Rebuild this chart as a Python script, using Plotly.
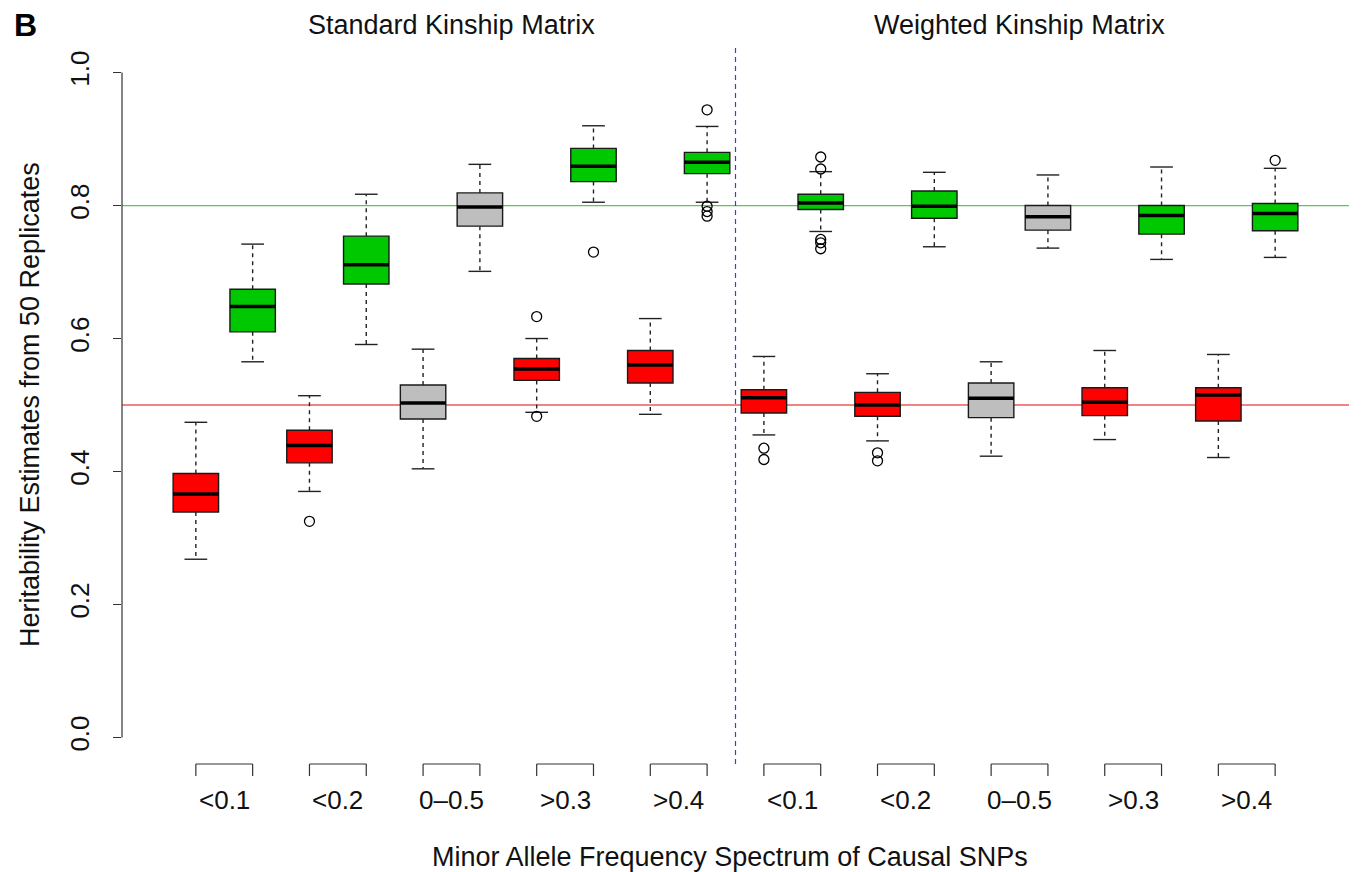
import plotly.graph_objects as go

# ---------------- data ----------------
panels = ["Standard Kinship Matrix", "Weighted Kinship Matrix"]
maf_labels = ["<0.1", "<0.2", "0\u20130.5", ">0.3", ">0.4",
              "<0.1", "<0.2", "0\u20130.5", ">0.3", ">0.4"]

# true heritability 0.5 (red series)
low_whi = [0.474, 0.514, 0.584, 0.600, 0.630, 0.573, 0.547, 0.565, 0.582, 0.576]
low_q3  = [0.397, 0.462, 0.530, 0.570, 0.582, 0.523, 0.519, 0.533, 0.526, 0.526]
low_med = [0.366, 0.439, 0.503, 0.554, 0.560, 0.511, 0.500, 0.510, 0.504, 0.515]
low_q1  = [0.339, 0.413, 0.479, 0.537, 0.533, 0.488, 0.483, 0.481, 0.484, 0.476]
low_wlo = [0.268, 0.370, 0.404, 0.489, 0.486, 0.455, 0.446, 0.423, 0.448, 0.421]
low_out = [[], [0.325], [], [0.633, 0.483], [], [0.435, 0.418], [0.428, 0.416], [], [], []]

# true heritability 0.8 (green series)
high_whi = [0.742, 0.817, 0.862, 0.920, 0.919, 0.851, 0.850, 0.846, 0.858, 0.856]
high_q3  = [0.674, 0.754, 0.819, 0.886, 0.880, 0.817, 0.822, 0.800, 0.800, 0.803]
high_med = [0.648, 0.711, 0.798, 0.859, 0.865, 0.804, 0.799, 0.783, 0.785, 0.788]
high_q1  = [0.610, 0.682, 0.769, 0.836, 0.848, 0.794, 0.781, 0.763, 0.757, 0.762]
high_wlo = [0.565, 0.591, 0.701, 0.805, 0.805, 0.761, 0.738, 0.736, 0.719, 0.722]
high_out = [[], [], [], [0.730], [0.944, 0.799, 0.791, 0.784],
            [0.873, 0.855, 0.749, 0.744, 0.735], [], [], [], [0.868]]

true_h2 = [0.5, 0.8]

# ---------------- styling ----------------
RED = "#FF0000"
GREEN = "#00C800"
GREY = "#BEBEBE"
FONT = "Liberation Sans, Arial, sans-serif"
BOXW = 0.8
CAPW = 0.4

fig = go.Figure()


def add_box(pos, whi, q3, med, q1, wlo, outs, fill):
    fig.add_trace(go.Box(
        x=[pos], q1=[q1], median=[med], q3=[q3],
        lowerfence=[q1], upperfence=[q3],
        width=BOXW, whiskerwidth=0,
        fillcolor=fill, line=dict(color="#1a1a1a", width=1.4),
        boxpoints=False, showlegend=False, hoverinfo="skip"))
    # dashed whiskers
    fig.add_trace(go.Scatter(
        x=[pos, pos, None, pos, pos], y=[q3, whi, None, q1, wlo],
        mode="lines", line=dict(color="#222222", width=1.4, dash="4px,4px"),
        showlegend=False, hoverinfo="skip"))
    # staples
    fig.add_trace(go.Scatter(
        x=[pos - CAPW / 2, pos + CAPW / 2, None, pos - CAPW / 2, pos + CAPW / 2],
        y=[whi, whi, None, wlo, wlo],
        mode="lines", line=dict(color="#222222", width=1.4),
        showlegend=False, hoverinfo="skip"))
    # thick median
    fig.add_trace(go.Scatter(
        x=[pos - BOXW / 2, pos + BOXW / 2], y=[med, med],
        mode="lines", line=dict(color="#000000", width=3.5),
        showlegend=False, hoverinfo="skip"))
    if outs:
        fig.add_trace(go.Scatter(
            x=[pos] * len(outs), y=outs, mode="markers",
            marker=dict(symbol="circle-open", size=10,
                        color="#000000", line=dict(width=1.3)),
            showlegend=False, hoverinfo="skip"))


n = len(maf_labels)
for i in range(n):
    grey = maf_labels[i].startswith("0")
    p_low = 2 * i + 1
    p_high = 2 * i + 2
    add_box(p_low, low_whi[i], low_q3[i], low_med[i], low_q1[i], low_wlo[i],
            low_out[i], GREY if grey else RED)
    add_box(p_high, high_whi[i], high_q3[i], high_med[i], high_q1[i], high_wlo[i],
            high_out[i], GREY if grey else GREEN)

shapes = []
# reference lines for the true heritability
shapes.append(dict(type="line", xref="paper", yref="y", x0=0, x1=1,
                   y0=true_h2[0], y1=true_h2[0],
                   line=dict(color="rgba(230,60,60,0.85)", width=1.3), layer="below"))
shapes.append(dict(type="line", xref="paper", yref="y", x0=0, x1=1,
                   y0=true_h2[1], y1=true_h2[1],
                   line=dict(color="rgba(60,190,60,0.85)", width=1.3), layer="below"))
# separator between the two panels
shapes.append(dict(type="line", xref="x", yref="paper", x0=n + 0.5, x1=n + 0.5,
                   y0=0, y1=1, line=dict(color="#3C3CD8", width=1.2, dash="5px,4px")))
# y axis line (0 to 1 only, like R)
shapes.append(dict(type="line", xref="paper", yref="y", x0=0, x1=0, y0=0, y1=1,
                   line=dict(color="#333333", width=1.2)))

# group brackets under the plot
tick_len = 12 / 718
annotations = []
for i in range(n):
    a, b = 2 * i + 1, 2 * i + 2
    shapes.append(dict(type="line", xref="x", yref="paper", x0=a, x1=b, y0=0, y1=0,
                       line=dict(color="#333333", width=1.2)))
    for xx in (a, b):
        shapes.append(dict(type="line", xref="x", yref="paper", x0=xx, x1=xx,
                           y0=0, y1=-tick_len, line=dict(color="#333333", width=1.2)))
    annotations.append(dict(x=(a + b) / 2, y=-36 / 718, xref="x", yref="paper",
                            text=maf_labels[i], showarrow=False,
                            xanchor="center", yanchor="middle",
                            font=dict(family=FONT, size=26, color="#111111")))

# panel titles
for k, t in enumerate(panels):
    annotations.append(dict(x=n * k + (n + 1) / 2, y=1 + 21 / 718, xref="x", yref="paper",
                            text=t, showarrow=False, xanchor="center", yanchor="middle",
                            font=dict(family=FONT, size=27, color="#111111")))

annotations.append(dict(x=-92 / 1227, y=0.5, xref="paper", yref="paper",
                        text="Heritability Estimates from 50 Replicates", textangle=-90,
                        showarrow=False, xanchor="center", yanchor="middle",
                        font=dict(family=FONT, size=27, color="#111111")))
annotations.append(dict(x=n + 0.4, y=-93 / 718, xref="x", yref="paper",
                        text="Minor Allele Frequency Spectrum of Causal SNPs",
                        showarrow=False, xanchor="center", yanchor="middle",
                        font=dict(family=FONT, size=27, color="#111111")))
annotations.append(dict(x=-97 / 1227, y=1 + 21 / 718, xref="paper", yref="paper",
                        text="<b>B</b>", showarrow=False, xanchor="center", yanchor="middle",
                        font=dict(family=FONT, size=32, color="#000000")))

fig.update_layout(
    width=1364, height=872,
    margin=dict(l=122, r=15, t=46, b=108),
    paper_bgcolor="white", plot_bgcolor="white",
    boxmode="overlay",
    shapes=shapes, annotations=annotations,
    xaxis=dict(range=[-0.3, 2 * n + 1.3], showgrid=False, zeroline=False,
               showline=False, showticklabels=False, ticks=""),
    yaxis=dict(range=[-0.04, 1.04], showgrid=False, zeroline=False, showline=False,
               tickvals=[0, 0.2, 0.4, 0.6, 0.8, 1.0],
               ticktext=["0.0", "0.2", "0.4", "0.6", "0.8", "1.0"],
               ticks="outside", ticklen=8, tickcolor="#333333", tickwidth=1.2,
               tickangle=-90, ticklabelstandoff=14,
               tickfont=dict(family=FONT, size=26, color="#111111")),
)

fig.write_html("out.html")
